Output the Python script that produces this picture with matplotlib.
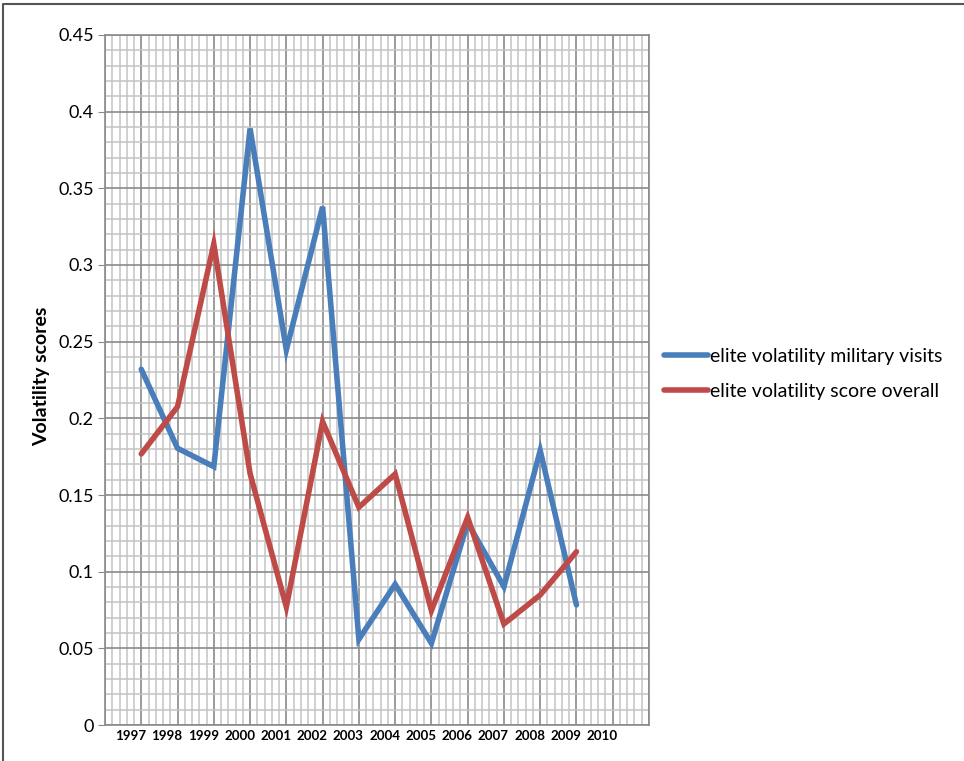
import matplotlib
matplotlib.use("Agg")
import matplotlib.pyplot as plt
from matplotlib.lines import Line2D
from matplotlib.ticker import MultipleLocator
import numpy as np

plt.rcParams['font.family'] = ['Lato', 'DejaVu Sans']

years = [1997, 1998, 1999, 2000, 2001, 2002, 2003, 2004, 2005, 2006, 2007, 2008, 2009]
military_visits = [0.232, 0.1805, 0.1685, 0.389, 0.2446, 0.338, 0.0559, 0.0918,
                   0.0533, 0.132, 0.0902, 0.179, 0.0783]
score_overall = [0.1768, 0.2076, 0.3137, 0.164, 0.077, 0.1979, 0.142, 0.1637,
                 0.0746, 0.1354, 0.0659, 0.0848, 0.113]
year_labels = [str(y) for y in range(1997, 2011)]
y_ticks = [0, 0.05, 0.1, 0.15, 0.2, 0.25, 0.3, 0.35, 0.4, 0.45]
y_tick_labels = ['0', '0.05', '0.1', '0.15', '0.2', '0.25', '0.3', '0.35', '0.4', '0.45']

blue = '#4A7EBB'
red = '#BE4B48'

fig = plt.figure(figsize=(9.64, 7.61), dpi=100)
ax = fig.add_axes([105 / 964, 36 / 761, 544 / 964, 690 / 761])

ax.plot(years, military_visits, color=blue, lw=4, solid_joinstyle='miter',
        solid_capstyle='round', label='elite volatility military visits', zorder=3)
ax.plot(years, score_overall, color=red, lw=4, solid_joinstyle='miter',
        solid_capstyle='round', label='elite volatility score overall', zorder=3)

ax.set_xlim(1996, 2011)
ax.set_ylim(0, 0.45)

# graph-paper style grid
ax.xaxis.set_major_locator(MultipleLocator(1))
ax.xaxis.set_minor_locator(MultipleLocator(0.2))
ax.yaxis.set_minor_locator(MultipleLocator(0.01))
ax.grid(which='minor', color='#c4c4c4', lw=1.1, zorder=0)
ax.grid(which='major', color='#8a8a8a', lw=1.2, zorder=1)
ax.set_axisbelow(True)

ax.set_xticks(range(1996, 2012))
ax.set_xticklabels([])
ax.tick_params(axis='x', which='both', length=0)
# year labels sit a little left of the grid lines, as in the original
for lab in year_labels:
    ax.text(int(lab) - 0.29, -0.0035, lab, ha='center', va='top',
            fontsize=9.6, fontweight='bold', transform=ax.transData)

ax.set_yticks(y_ticks)
ax.set_yticklabels(y_tick_labels, fontsize=13)
ax.tick_params(axis='y', which='major', length=5, color='#8a8a8a', pad=3)
ax.tick_params(axis='y', which='minor', length=0)

for s in ax.spines.values():
    s.set_color('#8a8a8a')
    s.set_linewidth(1.2)

fig.text(42 / 964, 1 - 376 / 761, 'Volatility scores', rotation=90, ha='center',
         va='center', fontsize=14, fontweight='bold')

fig.legend(loc='center left', bbox_to_anchor=(654 / 964, 1 - 374 / 761),
           frameon=False, fontsize=14, handlelength=2.3, handletextpad=0.1,
           labelspacing=0.95, borderpad=0)

# outer chart frame (top and left edges visible)
fig.add_artist(Line2D([3 / 964, 3 / 964, 1], [0, 1 - 4 / 761, 1 - 4 / 761],
                      transform=fig.transFigure, color='#555555', lw=1.5))

fig.savefig('out.png', dpi=100)
